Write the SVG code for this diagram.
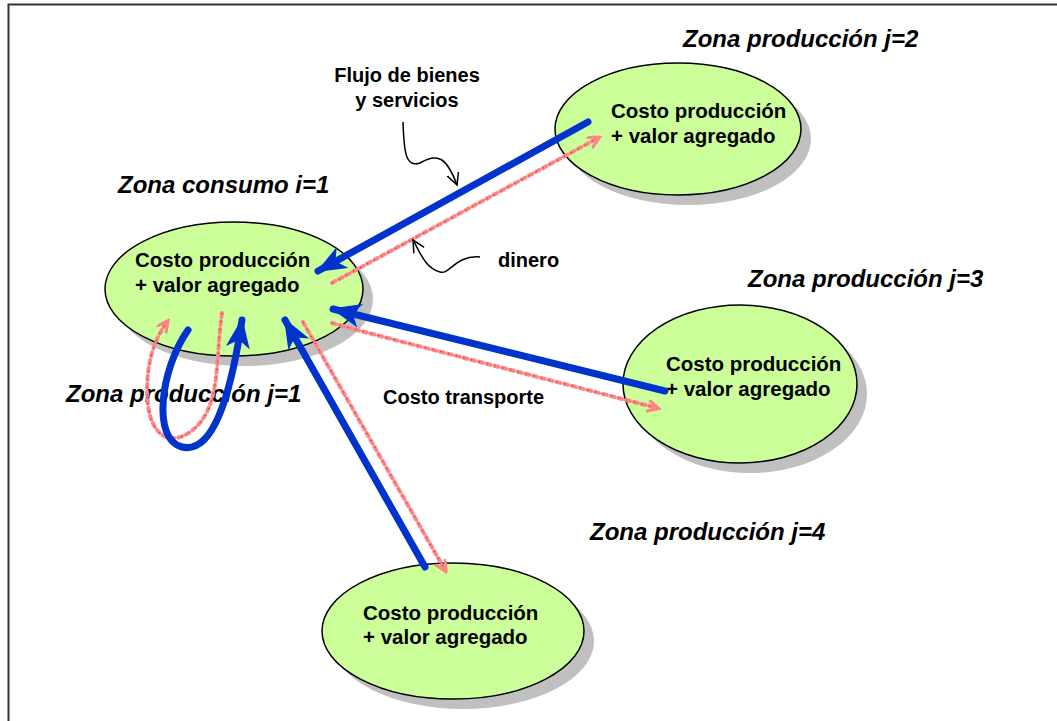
<svg xmlns="http://www.w3.org/2000/svg" width="1057" height="721" viewBox="0 0 1057 721">
<style>
.sh{fill:#c0c0c0;stroke:none}
.el{fill:#ccff99;stroke:#000;stroke-width:1.5}
.t{font-family:"Liberation Sans",Arial,sans-serif;font-weight:bold;font-size:20.5px;fill:#000}
.z{font-family:"Liberation Sans",Arial,sans-serif;font-weight:bold;font-style:italic;font-size:24px;fill:#000}
.l{font-family:"Liberation Sans",Arial,sans-serif;font-weight:bold;font-size:20px;fill:#000}
.blue{fill:none;stroke:#0033cc;stroke-width:7;stroke-linecap:round;stroke-linejoin:round}
.pink{fill:none;stroke:#ff8585;stroke-width:4;stroke-dasharray:4 4;stroke-linecap:round}
.dots{fill:none;stroke:#000;stroke-width:1;stroke-dasharray:1 7;opacity:0.6}
.call{fill:none;stroke:#000;stroke-width:1.5}
</style>
<defs>
<marker id="ab" markerUnits="userSpaceOnUse" markerWidth="32" markerHeight="26" refX="28" refY="12" orient="auto" viewBox="0 0 32 26">
<path d="M0,0 L30,12 L0,24 L8,12 z" fill="#0033cc"/>
</marker>
<marker id="ap" markerUnits="userSpaceOnUse" markerWidth="14" markerHeight="14" refX="10" refY="6" orient="auto" viewBox="0 0 14 14">
<path d="M0,0 L12,6 L0,12" fill="none" stroke="#ff8585" stroke-width="3"/>
</marker>
<marker id="ac" markerUnits="userSpaceOnUse" markerWidth="16" markerHeight="16" refX="12" refY="7" orient="auto" viewBox="0 0 16 16">
<path d="M0,1 L12,7 L0,13" fill="none" stroke="#000" stroke-width="1.5"/>
</marker>
</defs>
<rect x="8.5" y="4.5" width="1060" height="730" fill="#fff" stroke="#333" stroke-width="2"/>

<g id="consumo">
<ellipse class="sh" cx="244" cy="299" rx="129" ry="67"/>
<ellipse class="el" cx="234" cy="289" rx="129" ry="67"/>
<text class="t" x="135" y="267">Costo producción</text>
<text class="t" x="135" y="292">+ valor agregado</text>
<text class="z" x="118" y="193">Zona consumo i=1</text>
</g>
<g id="prod2">
<ellipse class="sh" cx="688" cy="139" rx="123" ry="66"/>
<ellipse class="el" cx="678" cy="129" rx="123" ry="66"/>
<text class="t" x="611" y="118">Costo producción</text>
<text class="t" x="611" y="143">+ valor agregado</text>
<text class="z" x="683" y="47">Zona producción j=2</text>
</g>
<g id="prod3">
<ellipse class="sh" cx="750" cy="394" rx="117" ry="79"/>
<ellipse class="el" cx="740" cy="384" rx="117" ry="79"/>
<text class="t" x="666" y="371">Costo producción</text>
<text class="t" x="666" y="396">+ valor agregado</text>
<text class="z" x="748" y="287">Zona producción j=3</text>
</g>
<g id="prod4">
<ellipse class="sh" cx="463" cy="641" rx="131" ry="68"/>
<ellipse class="el" cx="453" cy="631" rx="131" ry="68"/>
<text class="t" x="363" y="620">Costo producción</text>
<text class="t" x="363" y="644">+ valor agregado</text>
<text class="z" x="590" y="540">Zona producción j=4</text>
</g>
<g id="prod1">
<text class="z" x="66" y="402">Zona producción j=1</text>
</g>

<g id="connectors">
<path class="pink" d="M332,283 L598,138" marker-end="url(#ap)"/>
<path class="dots" d="M332,283 L598,138"/>
<path class="pink" d="M332,323 L357,330 L657,408" marker-end="url(#ap)"/>
<path class="dots" d="M332,323 L357,330 L657,408"/>
<path class="pink" d="M303,322 L445,570" marker-end="url(#ap)"/>
<path class="dots" d="M303,322 L445,570"/>
<path class="pink" d="M222,313 C215,360 222,410 190,432 C172,445 152,438 148,405 C145,375 150,345 167,322" marker-end="url(#ap)"/>
<path class="dots" d="M222,313 C215,360 222,410 190,432 C172,445 152,438 148,405 C145,375 150,345 167,322"/>

<path class="blue" d="M588,122 L318,271" marker-end="url(#ab)"/>
<path class="blue" d="M665,391 L333,309" marker-end="url(#ab)"/>
<path class="blue" d="M425,567 L285,320" marker-end="url(#ab)"/>
<path class="blue" d="M188,330 C160,370 152,440 182,447 C212,454 230,400 242,320" marker-end="url(#ab)"/>

<path class="call" d="M403,122 C404,150 405,168 420,163 C438,152 447,158 457,185" marker-end="url(#ac)"/>
<path class="call" d="M480,257 C455,255 450,275 440,272 C425,268 420,252 413,240" marker-end="url(#ac)"/>
</g>
<g id="labels">
<text class="l" x="407" y="82" text-anchor="middle">Flujo de bienes</text>
<text class="l" x="407" y="107" text-anchor="middle">y servicios</text>
<text class="l" x="498" y="267">dinero</text>
<text class="l" x="383" y="404">Costo transporte</text>
</g>
</svg>
